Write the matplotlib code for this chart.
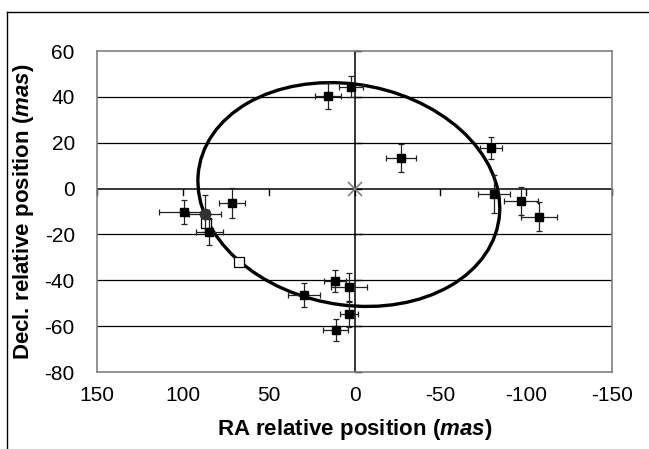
import numpy as np
import matplotlib.pyplot as plt
from matplotlib.patches import Ellipse
from matplotlib.lines import Line2D

plt.rcParams['font.family'] = 'Liberation Sans'
plt.rcParams['mathtext.fontset'] = 'custom'
plt.rcParams['mathtext.it'] = 'Liberation Sans:italic:bold'
plt.rcParams['mathtext.rm'] = 'Liberation Sans:bold'
plt.rcParams['axes.unicode_minus'] = False

# measured positions (mas)
ra = [15.6, 2.2, -27.1, -79.3, -81.1, -97.0, -107.5, 99.1, 71.2, 84.6, 29.4, 11.4, 3.0, 3.0, 10.8]
dec = [40.4, 44.5, 13.3, 17.7, -2.3, -5.4, -12.3, -10.3, -6.4, -19.0, -46.4, -40.3, -42.9, -54.9, -61.6]
ra_err = [7.5, 7.0, 8.5, 6.4, 9.2, 9.9, 10.6, 14.6, 7.7, 7.8, 9.4, 6.2, 10.5, 5.3, 7.3]
dec_err = [5.6, 4.5, 6.2, 4.9, 8.3, 6.3, 6.3, 5.3, 6.5, 5.7, 5.1, 4.9, 6.1, 5.4, 4.8]

# highlighted point
ra_hl, dec_hl, ra_hl_err, dec_hl_err = 86.9, -11.0, 9.3, 8.0

# open squares
ra_open = [86.5, 67.3]
dec_open = [-15.0, -32.0]

# orbit ellipse: center, semi axes, angle (deg)
orb_center = (3.3, -2.6)
orb_a, orb_b, orb_angle = 88.2, 48.3, 5.46

xticks = [150, 100, 50, 0, -50, -100, -150]
yticks = [-80, -60, -40, -20, 0, 20, 40, 60]

fig = plt.figure(figsize=(6.49, 4.49), dpi=100)
ax = fig.add_axes([97/649, 1-372/449, (612-97)/649, (372-51)/449])

ax.set_xlim(150, -150)
ax.set_ylim(-80, 60)
ax.set_xticks(xticks)
ax.set_yticks(yticks)
ax.tick_params(length=0, labelsize=15, pad=10)
ax.tick_params(axis='y', pad=16)
for s in ax.spines.values():
    s.set_color('#808080')
    s.set_linewidth(1.2)

for y in yticks[1:-1]:
    if y != 0:
        ax.axhline(y, color='black', lw=0.9, zorder=1)
ax.axhline(0, color='black', lw=1.1, zorder=1)
ax.axvline(0, color='black', lw=1.1, zorder=1)

# small tick marks on the zero axes
for x in xticks:
    ax.plot([x, x], [0, -2.7], color='black', lw=1, zorder=1, clip_on=False)
for y in yticks:
    ax.plot([0, -4], [y, y], color='black', lw=1, zorder=1, clip_on=False)

ax.add_patch(Ellipse(orb_center, 2*orb_a, 2*orb_b, angle=orb_angle,
                     fill=False, edgecolor='black', lw=2.4, zorder=3))

ax.plot(ra_open, dec_open, 's', ms=6.5, mfc='white', mec='black', mew=0.9, zorder=3.5)

ax.errorbar(ra, dec, xerr=ra_err, yerr=dec_err, fmt='s', ms=5.2,
            color='black', ecolor='#222222', elinewidth=0.9, capsize=2.5,
            capthick=0.9, zorder=4)
ax.errorbar([ra_hl], [dec_hl], xerr=[ra_hl_err], yerr=[dec_hl_err], fmt='o', ms=7.5,
            color='#333333', ecolor='#222222', elinewidth=0.9, capsize=2.5,
            capthick=0.9, zorder=4)
ax.plot([0], [0], 'x', ms=10, color='#808080', mew=1.2, zorder=5)

ax.set_xlabel(r'RA relative position ($\mathit{mas}$)', fontsize=16,
              fontweight='bold', labelpad=9)
ax.set_ylabel(r'Decl. relative position ($\mathit{mas}$)', fontsize=16,
              fontweight='bold', labelpad=6)

# outer border (top and left)
fig.add_artist(Line2D([6.5/649, 1], [1-11.5/449, 1-11.5/449], color='black', lw=1))
fig.add_artist(Line2D([6.5/649, 6.5/649], [0, 1-11.5/449], color='black', lw=1))

fig.savefig('out.png', dpi=100)
